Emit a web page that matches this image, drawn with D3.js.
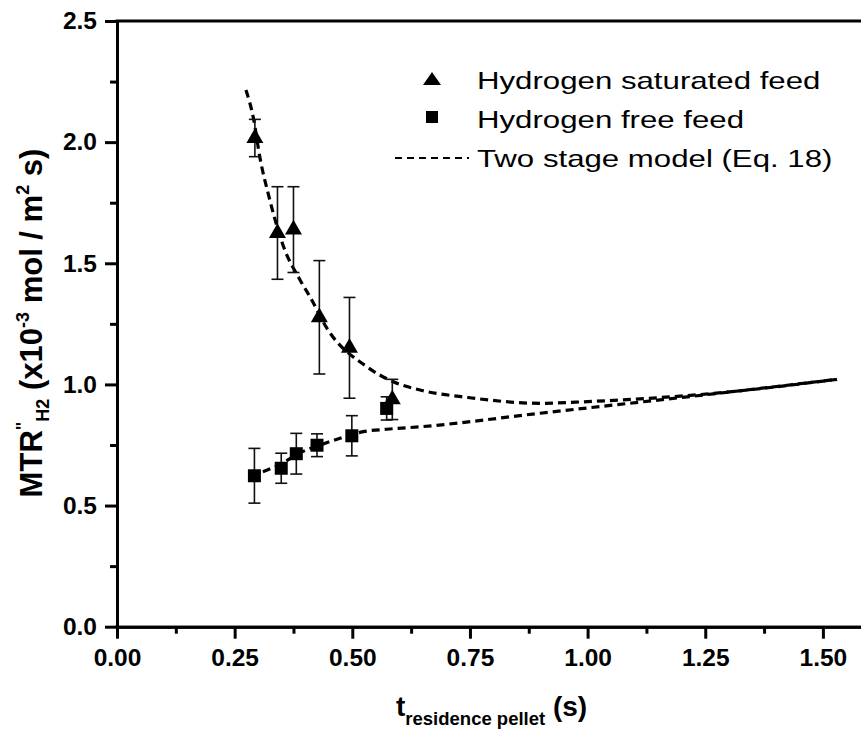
<!DOCTYPE html>
<html>
<head>
<meta charset="utf-8">
<script src="https://cdn.jsdelivr.net/npm/d3@7"></script>
<style>
  body { margin: 0; background: #fff; }
  text { font-family: "Liberation Sans", Arial, sans-serif; }
</style>
</head>
<body>
<svg id="chart" width="861" height="733"></svg>
<script>
// Measured points (hydrogen saturated feed)
var satTime = [0.293, 0.341, 0.375, 0.430, 0.494, 0.585];
var satRate = [2.017, 1.625, 1.639, 1.277, 1.151, 0.938];
var satErr  = [0.077, 0.191, 0.177, 0.234, 0.208, 0.083];

// Measured points (hydrogen free feed)
var freeTime = [0.292, 0.349, 0.381, 0.425, 0.499, 0.573];
var freeRate = [0.623, 0.654, 0.714, 0.749, 0.788, 0.901];
var freeErr  = [0.113, 0.062, 0.084, 0.047, 0.083, 0.048];

// Two stage model curves
var satModelTime = [0.274, 0.290, 0.304, 0.322, 0.354, 0.389, 0.410, 0.446, 0.531, 0.587, 0.644, 0.750, 0.899, 1.000, 1.267, 1.530];
var satModelRate = [2.215, 2.098, 1.933, 1.782, 1.568, 1.431, 1.362, 1.232, 1.073, 1.011, 0.977, 0.945, 0.922, 0.929, 0.963, 1.021];
var freeModelTime = [0.310, 0.345, 0.387, 0.432, 0.474, 0.523, 0.573, 0.644, 0.899, 1.267, 1.530];
var freeModelRate = [0.640, 0.668, 0.716, 0.750, 0.778, 0.805, 0.815, 0.825, 0.881, 0.961, 1.021];

// Ticks
var xMajor = [0, 0.25, 0.5, 0.75, 1.0, 1.25, 1.5];
var xMinor = [0.125, 0.375, 0.625, 0.875, 1.125, 1.375];
var yMajor = [0, 0.5, 1.0, 1.5, 2.0, 2.5];
var yMinor = [0.25, 0.75, 1.25, 1.75, 2.25];

var legendLabels = ["Hydrogen saturated feed", "Hydrogen free feed", "Two stage model (Eq. 18)"];

var svg = d3.select('#chart');

var x = d3.scaleLinear().domain([0, 1.6]).range([117, 117 + 1.6 * 470.6]);
var y = d3.scaleLinear().domain([0, 2.5]).range([626.7, 21]);

function zip(ts, vs, es) {
  return ts.map(function(t, i) { return { t: t, v: vs[i], e: es ? es[i] : 0 }; });
}
var satData = zip(satTime, satRate, satErr);
var freeData = zip(freeTime, freeRate, freeErr);

// Axes
var xAxis = d3.axisBottom(x).tickValues(xMajor).tickFormat(d3.format('.2f'))
    .tickSize(12).tickSizeOuter(0).tickPadding(10);
var xAxisMinor = d3.axisBottom(x).tickValues(xMinor).tickFormat('').tickSize(7).tickSizeOuter(0);
var yAxis = d3.axisLeft(y).tickValues(yMajor).tickFormat(d3.format('.1f'))
    .tickSize(12).tickSizeOuter(0).tickPadding(8);
var yAxisMinor = d3.axisLeft(y).tickValues(yMinor).tickFormat('').tickSize(7).tickSizeOuter(0);

function styleAxis(g) {
  g.selectAll('path').attr('stroke', '#000').attr('stroke-width', 3);
  g.selectAll('line').attr('stroke', '#000').attr('stroke-width', 3);
  g.selectAll('text').attr('font-size', 24.5).attr('font-weight', 'bold').attr('fill', '#000')
    .style('font-family', '"Liberation Sans", Arial, sans-serif');
}

svg.append('g').attr('transform', 'translate(0,' + y(0) + ')').call(xAxisMinor).call(styleAxis);
svg.append('g').attr('transform', 'translate(0,' + y(0) + ')').call(xAxis).call(styleAxis);
svg.append('g').attr('transform', 'translate(' + x(0) + ',0)').call(yAxisMinor).call(styleAxis);
svg.append('g').attr('transform', 'translate(' + x(0) + ',0)').call(yAxis).call(styleAxis);

// Top frame line
svg.append('line')
   .attr('x1', x(0) - 1.5).attr('x2', x(1.6))
   .attr('y1', y(2.5)).attr('y2', y(2.5))
   .attr('stroke', '#000').attr('stroke-width', 3);
// close the lower-left corner
svg.append('rect').attr('x', x(0) - 1.5).attr('y', y(0) - 1.5).attr('width', 3).attr('height', 3).attr('fill', '#000');

// Model curves
var line = d3.line().x(function(d) { return x(d[0]); }).y(function(d) { return y(d[1]); })
    .curve(d3.curveMonotoneX);
[[satModelTime, satModelRate], [freeModelTime, freeModelRate]].forEach(function(m) {
  svg.append('path')
     .datum(m[0].map(function(t, i) { return [t, m[1][i]]; }))
     .attr('d', line)
     .attr('fill', 'none')
     .attr('stroke', '#000')
     .attr('stroke-width', 3.2)
     .attr('stroke-dasharray', '8,5');
});

// Error bars
function errorBars(data) {
  var g = svg.append('g').attr('stroke', '#111').attr('stroke-width', 1.6);
  data.forEach(function(d) {
    var cx = x(d.t);
    g.append('line').attr('x1', cx).attr('x2', cx).attr('y1', y(d.v - d.e)).attr('y2', y(d.v + d.e));
    g.append('line').attr('x1', cx - 6).attr('x2', cx + 6).attr('y1', y(d.v - d.e)).attr('y2', y(d.v - d.e));
    g.append('line').attr('x1', cx - 6).attr('x2', cx + 6).attr('y1', y(d.v + d.e)).attr('y2', y(d.v + d.e));
  });
}
errorBars(satData);
errorBars(freeData);

// Markers
svg.append('g').selectAll('path').data(satData).enter().append('path')
   .attr('d', d3.symbol().type(d3.symbolTriangle).size(125))
   .attr('transform', function(d) { return 'translate(' + x(d.t) + ',' + y(d.v) + ')'; })
   .attr('fill', '#000');
svg.append('g').selectAll('rect').data(freeData).enter().append('rect')
   .attr('x', function(d) { return x(d.t) - 6.5; })
   .attr('y', function(d) { return y(d.v) - 6.5; })
   .attr('width', 13).attr('height', 13)
   .attr('fill', '#000');

// Legend
var legend = svg.append('g');
legend.append('path').attr('d', 'M-9,6 L9,6 L0,-7 Z').attr('transform', 'translate(432,79)').attr('fill', '#000');
legend.append('rect').attr('x', 426).attr('y', 111).attr('width', 12).attr('height', 12).attr('fill', '#000');
legend.append('line').attr('x1', 395).attr('x2', 469).attr('y1', 158).attr('y2', 158)
      .attr('stroke', '#000').attr('stroke-width', 2).attr('stroke-dasharray', '7,5');
legend.selectAll('text.leg').data(legendLabels).enter().append('text')
      .attr('class', 'leg')
      .attr('transform', function(d, i) { return 'translate(477,' + (88.5 + i * 39) + ') scale(1.3,1)'; })
      .attr('font-size', 24)
      .attr('fill', '#000')
      .text(function(d) { return d; });

// Y axis title
var yt = svg.append('text')
   .attr('transform', 'translate(42,323) rotate(-90)')
   .attr('text-anchor', 'middle')
   .attr('font-weight', 'bold')
   .attr('font-size', 31)
   .attr('fill', '#000');
yt.append('tspan').text('MTR');
yt.append('tspan').attr('font-size', 18).attr('dy', -13).text('"');
yt.append('tspan').attr('font-size', 18).attr('dy', 20).text('H2');
yt.append('tspan').attr('dy', -7).text(' (x10');
yt.append('tspan').attr('font-size', 18).attr('dy', -13).text('-3');
yt.append('tspan').attr('dy', 13).text(' mol / m');
yt.append('tspan').attr('font-size', 18).attr('dy', -13).text('2');
yt.append('tspan').attr('dy', 13).text(' s)');

// X axis title
var xt = svg.append('text')
   .attr('x', 396).attr('y', 716)
   .attr('font-weight', 'bold')
   .attr('font-size', 28)
   .attr('fill', '#000');
xt.append('tspan').text('t');
xt.append('tspan').attr('font-size', 18.5).attr('dy', 9).text('residence pellet');
xt.append('tspan').attr('dy', -9).text(' (s)');
</script>
</body>
</html>
